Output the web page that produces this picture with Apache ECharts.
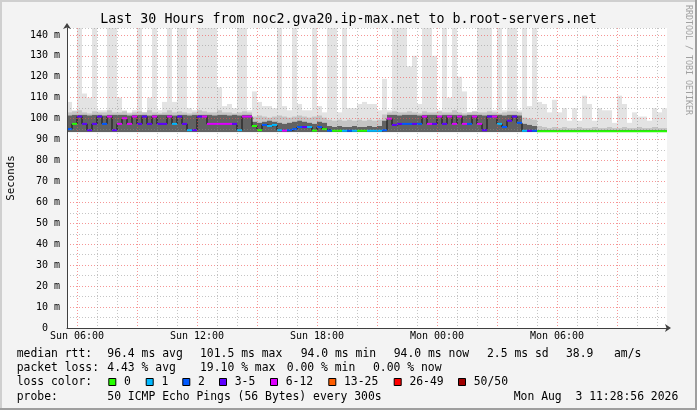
<!DOCTYPE html>
<html>
<head>
<meta charset="utf-8">
<script src="https://cdn.jsdelivr.net/npm/echarts@6/dist/echarts.min.js"></script>
<style>
  html, body { margin: 0; padding: 0; background: #f3f3f3; }
  #chart { width: 697px; height: 410px; }
</style>
</head>
<body>
<div id="chart"></div>
<script>
// x is hours since Sun 00:00, one column per 15 minutes
var START_HOUR = 5.5;
var STEP_HOURS = 0.25;
var SMOKE_FLOOR = 93.6;

// median rtt per column (ms)
var medianRtt = [
  95.0, 97.5, 101.0, 97.5, 94.5, 97.5, 101.0, 97.5, 101.0, 94.5,
  97.5, 100.2, 97.5, 101.0, 97.5, 101.0, 97.5, 101.0, 97.5, 97.5,
  101.0, 97.5, 101.0, 97.5, 94.5, 94.5, 101.0, 101.0, 97.5, 97.5,
  97.5, 97.5, 97.5, 97.5, 94.5, 101.0, 101.0, 96.5, 94.5, 97.0,
  96.5, 97.0, 94.5, 94.3, 94.5, 95.0, 96.0, 96.0, 96.0, 94.3,
  96.0, 95.0, 94.3, 94.2, 94.2, 94.2, 94.2, 94.2, 94.2, 94.2,
  94.2, 94.2, 94.2, 94.5, 100.0, 97.0, 97.5, 97.5, 97.5, 97.5,
  97.5, 101.0, 97.5, 97.5, 101.0, 97.5, 101.0, 97.5, 101.0, 97.5,
  97.5, 101.0, 97.5, 94.5, 101.0, 101.0, 97.5, 96.0, 99.0, 101.0,
  98.0, 94.2, 94.2, 94.2, 94.0, 94.0, 94.0, 94.0, 94.0, 94.0,
  94.0, 94.0, 94.0, 94.0, 94.0, 94.0, 94.0, 94.0, 94.0, 94.0,
  94.0, 94.0, 94.0, 94.0, 94.0, 94.0, 94.0, 94.0, 94.0, 94.0
];

// lost pings out of 50 per column
var lostPings = [
  2, 0, 4, 3, 4, 3, 5, 2, 7, 4,
  6, 8, 6, 7, 5, 4, 4, 8, 5, 3,
  9, 1, 4, 5, 1, 3, 5, 8, 7, 6,
  6, 7, 6, 4, 1, 8, 7, 0, 0, 2,
  1, 1, 1, 6, 2, 2, 2, 3, 1, 0,
  2, 0, 2, 0, 0, 1, 2, 1, 0, 0,
  1, 1, 1, 2, 6, 4, 3, 2, 2, 3,
  2, 8, 6, 4, 7, 5, 8, 6, 9, 6,
  2, 7, 6, 4, 5, 8, 1, 2, 4, 5,
  2, 1, 3, 2, 0, 0, 0, 0, 0, 0,
  0, 0, 0, 0, 0, 0, 0, 0, 0, 0,
  0, 0, 0, 0, 0, 0, 0, 0, 0, 0
];

// smoke: slowest ping, upper spread, inner spread (ms)
var smokeMax = [
  108, 104, 145, 112, 110, 145, 104, 104, 145, 145,
  110, 104, 103, 104, 145, 103, 110, 145, 104, 108,
  145, 108, 145, 145, 105, 104, 145, 145, 145, 145,
  115, 106, 107, 105, 145, 145, 104, 113, 108, 106,
  106, 105, 145, 106, 104, 145, 107, 104, 104, 145,
  106, 103, 145, 145, 103, 145, 105, 105, 107, 108,
  107, 107, 104, 119, 104, 145, 145, 145, 125, 130,
  107, 145, 145, 130, 104, 145, 110, 145, 120, 113,
  103, 103, 145, 145, 145, 104, 145, 104, 145, 145,
  104, 145, 106, 145, 108, 107, 103, 109, 103, 105,
  99, 105, 99, 111, 107, 99, 105, 104, 104, 98,
  111, 107, 98, 103, 101, 101, 99, 105, 103, 105
];

var smokeUpper = [
  103, 103.5, 104, 103, 102.5, 103.5, 103, 103, 104, 103,
  103, 103.5, 102.5, 103, 103.5, 103, 104, 103, 102.5, 103,
  104, 103, 103.5, 103, 102.5, 103, 104, 103.5, 103, 103,
  104, 103, 103, 102.5, 103, 103.5, 103, 101, 101.5, 101,
  100.5, 101, 101.5, 101, 100.5, 101, 101.5, 101, 100.5, 101,
  101.5, 100.5, 99.5, 99, 99.5, 99, 99.5, 99, 99.5, 99,
  99.5, 99, 99.5, 102, 103, 103.5, 103, 103, 103.5, 103,
  102.5, 103.5, 103, 103, 103.5, 103, 103, 104, 103, 102.5,
  103, 103.5, 103, 103, 103.5, 103, 102.5, 103, 103.5, 103.5,
  103, 100.5, 100, 99.5, 96.5, 96, 95.5, 96, 95.5, 96,
  95.5, 95.5, 96, 95.5, 95.5, 96, 95.5, 95.5, 96, 95.5,
  95.5, 96, 95.5, 95.5, 96, 95.5, 95.5, 96, 95.5, 95.5
];

var smokeCore = [
  101.5, 101.8, 101.8, 101.8, 101.5, 101.8, 101.8, 101.5, 101.8, 101.8,
  101.8, 101.8, 101.5, 101.8, 101.8, 101.8, 101.5, 101.8, 101.8, 101.8,
  101.8, 101.5, 101.8, 101.8, 101.5, 101.8, 101.8, 101.8, 101.8, 101.5,
  101.8, 101.8, 101.5, 101.8, 101.5, 101.8, 101.8, 98.5, 98, 98.5,
  99, 98.5, 98, 97.5, 98, 98.5, 99, 98.5, 98, 97.5,
  98.5, 98, 96.5, 96, 96.5, 96, 96, 96.5, 96, 96,
  96.5, 96, 96.5, 99, 101.8, 101.8, 101.5, 101.8, 101.8, 101.8,
  101.5, 101.8, 101.8, 101.8, 101.5, 101.8, 101.8, 101.8, 101.8, 101.5,
  101.8, 101.8, 101.8, 101.5, 101.8, 101.8, 101.8, 101.5, 101.8, 101.8,
  101.5, 97.5, 97, 96.5, 94.5, 94.5, 94.5, 94.5, 94.5, 94.5,
  94.5, 94.5, 94.5, 94.5, 94.5, 94.5, 94.5, 94.5, 94.5, 94.5,
  94.5, 94.5, 94.5, 94.5, 94.5, 94.5, 94.5, 94.5, 94.5, 94.5
];

var lossLabels = ['0', '1', '2', '3-5', '6-12', '13-25', '26-49', '50/50'];
var lossUpTo = [0, 1, 2, 5, 12, 25, 49, 50];
var lossColors = ['#26ff00', '#00b8ff', '#0059ff', '#5e00ff', '#dd00ff', '#ff5e00', '#ff0000', '#a00000'];

var titleText = 'Last 30 Hours from noc2.gva20.ip-max.net to b.root-servers.net';
var rttStats = ['96.4 ms avg', '101.5 ms max', '94.0 ms min', '94.0 ms now', '2.5 ms sd', '38.9   am/s'];
var lossStats = ['4.43 % avg', '19.10 % max', '0.00 % min', '0.00 % now'];
var probeText = '50 ICMP Echo Pings (56 Bytes) every 300s';
var stampText = 'Mon Aug  3 11:28:56 2026';

var MONO = 'DejaVu Sans Mono';

function lossColor(n) {
  for (var i = 0; i < lossUpTo.length; i++) {
    if (n <= lossUpTo[i]) return lossColors[i];
  }
  return lossColors[lossColors.length - 1];
}

var smokeData = [], medianData = [], stepData = [];
for (var i = 0; i < medianRtt.length; i++) {
  var t0 = START_HOUR + i * STEP_HOURS, t1 = t0 + STEP_HOURS;
  smokeData.push([t0, t1, smokeMax[i], smokeUpper[i], smokeCore[i]]);
  medianData.push([t0, t1, medianRtt[i], lostPings[i]]);
  stepData.push([t0, medianRtt[i]]);
}
stepData.push([START_HOUR + medianRtt.length * STEP_HOURS, medianRtt[medianRtt.length - 1]]);

var chart = echarts.init(document.getElementById('chart'), null, { renderer: 'canvas' });

function text(x, y, str, extra) {
  var s = { text: str, x: 0, y: 0, fill: '#000', font: '11.4px "' + MONO + '"',
            align: 'left', verticalAlign: 'middle' };
  for (var k in (extra || {})) s[k] = extra[k];
  return { type: 'text', x: x, y: y, style: s, z: 10 };
}

var graphics = [
  // frame shading
  { type: 'rect', shape: { x: 0, y: 0, width: 697, height: 2 }, style: { fill: '#cfcfcf' } },
  { type: 'rect', shape: { x: 0, y: 0, width: 2, height: 410 }, style: { fill: '#cfcfcf' } },
  { type: 'rect', shape: { x: 0, y: 408, width: 697, height: 2 }, style: { fill: '#9e9e9e' } },
  { type: 'rect', shape: { x: 695, y: 0, width: 2, height: 410 }, style: { fill: '#9e9e9e' } },
  text(348.5, 19.3, titleText, { align: 'center', font: '13.3px "' + MONO + '"' }),
  { type: 'text', x: 11, y: 178, rotation: Math.PI / 2,
    style: { text: 'Seconds', fill: '#000', font: '10.8px "' + MONO + '"', align: 'center', verticalAlign: 'middle' } },
  { type: 'text', x: 688.5, y: 5, rotation: -Math.PI / 2,
    style: { text: 'RRDTOOL / TOBI OETIKER', fill: '#a0a0a0', font: '8.3px "' + MONO + '"', align: 'left', verticalAlign: 'middle' } },
  text(16.7, 354.3, 'median rtt:'),
  text(16.7, 368.3, 'packet loss:'),
  text(16.7, 382.3, 'loss color:'),
  text(16.7, 396.7, 'probe:'),
  text(107.3, 396.7, probeText),
  text(513.7, 396.7, stampText)
];

var rttX = [107.3, 200, 300.7, 393.7, 487, 566];
rttStats.forEach(function (s, i) { graphics.push(text(rttX[i], 354.3, s)); });
var lossX = [107.3, 200, 286.7, 373];
lossStats.forEach(function (s, i) { graphics.push(text(lossX[i], 368.3, s)); });
var swatchX = [108.3, 145.7, 182.3, 219, 270, 328.3, 393.7, 458];
lossLabels.forEach(function (s, i) {
  graphics.push({ type: 'rect', z: 10, shape: { x: swatchX[i] + 0.5, y: 378.5, width: 7, height: 7 },
                  style: { fill: lossColors[i], stroke: '#000', lineWidth: 1 } });
  graphics.push(text(swatchX[i] + 15.7, 382.3, s));
});

var RED = 'rgba(240,80,80,0.6)';
var GRAY = 'rgba(140,140,140,0.5)';
var NONE = 'rgba(0,0,0,0)';

var option = {
  animation: false,
  backgroundColor: '#f3f3f3',
  grid: { left: 67, top: 28, width: 600, height: 300, show: true, backgroundColor: '#ffffff',
          borderWidth: 0, outerBoundsMode: 'none' },
  xAxis: {
    type: 'value', min: 5.5, max: 35.5, interval: 0.5, z: 5,
    axisLine: { show: true, lineStyle: { color: '#404040', width: 1 }, symbol: ['none', 'arrow'],
                symbolSize: [6, 6], symbolOffset: [0, 4] },
    axisTick: { show: false },
    axisLabel: {
      margin: 3, color: '#000', fontFamily: MONO, fontSize: 10,
      formatter: function (v) {
        if (Math.abs(v % 6) > 1e-6) return '';
        var h = v % 24;
        return (v < 24 ? 'Sun ' : 'Mon ') + (h < 10 ? '0' : '') + h + ':00';
      }
    },
    splitLine: { show: true, lineStyle: { color: [NONE, RED, NONE, GRAY, NONE, GRAY], width: 1, type: [1, 2] } }
  },
  yAxis: {
    type: 'value', min: 0, max: 143.3, interval: 5, z: 5,
    axisLine: { show: true, lineStyle: { color: '#404040', width: 1 }, symbol: ['none', 'arrow'],
                symbolSize: [6, 6], symbolOffset: [0, 5] },
    axisTick: { show: false },
    axisLabel: {
      margin: 7, color: '#000', fontFamily: MONO, fontSize: 10,
      formatter: function (v) {
        if (Math.abs(v % 10) > 1e-6) return '';
        return v === 0 ? '0\u00a0\u00a0' : v + ' m';
      }
    },
    splitLine: { show: true, lineStyle: { color: [RED, GRAY], width: 1, type: [1, 2] } }
  },
  series: [
    {
      type: 'custom', name: 'smoke', z: 1, clip: true,
      data: smokeData,
      encode: { x: [0, 1], y: [2, 3, 4] },
      renderItem: function (params, api) {
        var x0 = api.value(0), x1 = api.value(1);
        var layers = [[api.value(2), '#e3e3e3'], [api.value(3), '#c4c4c4'], [api.value(4), '#626262']];
        return {
          type: 'group',
          children: layers.map(function (l) {
            var a = api.coord([x0, l[0]]), b = api.coord([x1, SMOKE_FLOOR]);
            return { type: 'rect', shape: { x: a[0], y: a[1], width: b[0] - a[0], height: b[1] - a[1] },
                     style: { fill: l[1] } };
          })
        };
      }
    },
    {
      type: 'line', name: 'median', z: 2, step: 'end', symbol: 'none',
      data: stepData,
      lineStyle: { color: '#111111', width: 1 }
    },
    {
      type: 'custom', name: 'loss', z: 3,
      data: medianData,
      encode: { x: [0, 1], y: 2 },
      renderItem: function (params, api) {
        var a = api.coord([api.value(0), api.value(2)]);
        var b = api.coord([api.value(1), api.value(2)]);
        return { type: 'rect', shape: { x: a[0], y: a[1] - 1, width: b[0] - a[0], height: 2 },
                 style: { fill: lossColor(api.value(3)) } };
      }
    }
  ],
  graphic: graphics
};

chart.setOption(option);
</script>
</body>
</html>
